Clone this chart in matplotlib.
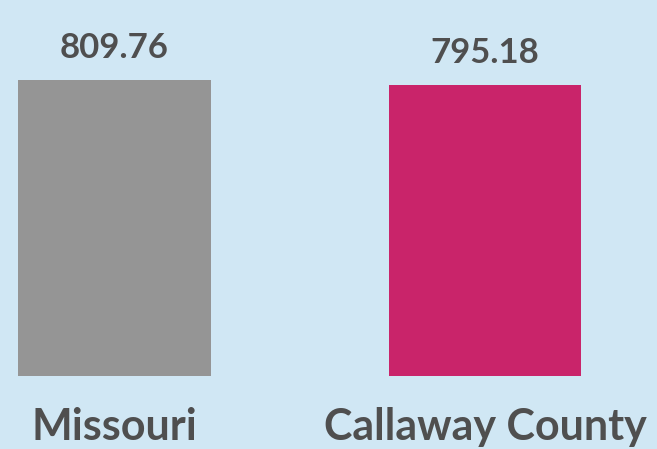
#!/usr/bin/env python3

## plot.py - bar comparison, Missouri vs Callaway County

import matplotlib
matplotlib.use('Agg')
import matplotlib.pyplot as plt
import matplotlib.transforms as mtransforms

## Data
categories = ['Missouri', 'Callaway County']
values     = [809.76, 795.18]
labels     = ['809.76', '795.18']
colors     = ['#959595', '#c9246a']

BG   = '#d0e7f4'
TEXT = '#4f4f4f'

def main():
    fig = plt.figure(figsize=(6.57, 4.49), dpi=100)
    fig.patch.set_facecolor(BG)
    ax = fig.add_axes([0, 0, 1, 1])
    ax.set_facecolor(BG)

    xs = list(range(len(categories)))
    ax.bar(xs, values, width=0.52, color=colors)

    # scale so the bars land where they sit in the reference
    ax.set_xlim(-0.309, 1.464)
    ax.set_ylim(-199.7, 1028.6)
    ax.axis('off')

    for x, v, lab in zip(xs, values, labels):
        ax.annotate(lab, (x, v), xytext=(0, 23), textcoords='offset points',
                    ha='center', va='center', fontsize=25, fontweight='bold',
                    family='Lato', color=TEXT)

    trans = mtransforms.blended_transform_factory(ax.transData, ax.transAxes)
    for x, cat in zip(xs, categories):
        ax.text(x, 0.05, cat, transform=trans, ha='center', va='center',
                fontsize=31, fontweight='bold', family='Lato', color=TEXT)

    fig.savefig('out.png', dpi=100, facecolor=BG)

if __name__ == '__main__':
    main()
